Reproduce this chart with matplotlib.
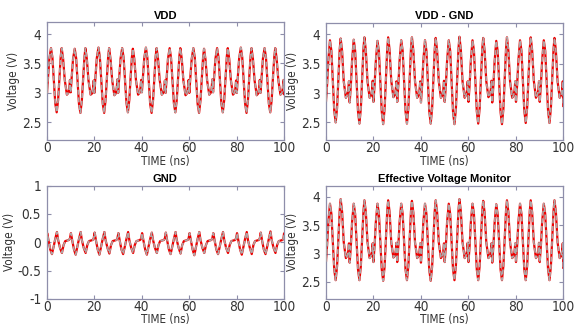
import matplotlib
matplotlib.use("Agg")
import matplotlib.pyplot as plt
from matplotlib import font_manager
from matplotlib.font_manager import FontProperties
from matplotlib.ticker import FuncFormatter

# ---------------- data ----------------
t_main = [0.0,
    0.1, 0.6, 1.1, 1.8, 2.4, 3.0, 3.6, 4.2, 4.8, 5.4, 5.9, 6.3, 6.9, 7.6, 8.5, 9.1, 9.5, 9.8,
    10.1, 10.6, 11.1, 11.8, 12.4, 13.0, 13.6, 14.2, 14.8, 15.4, 15.9, 16.3, 16.9, 17.6, 18.5, 19.1, 19.5, 19.8,
    20.1, 20.6, 21.1, 21.8, 22.4, 23.0, 23.6, 24.2, 24.8, 25.4, 25.9, 26.3, 26.9, 27.6, 28.5, 29.1, 29.5, 29.8,
    30.1, 30.6, 31.1, 31.8, 32.4, 33.0, 33.6, 34.2, 34.8, 35.4, 35.9, 36.3, 36.9, 37.6, 38.5, 39.1, 39.5, 39.8,
    40.1, 40.6, 41.1, 41.8, 42.4, 43.0, 43.6, 44.2, 44.8, 45.4, 45.9, 46.3, 46.9, 47.6, 48.5, 49.1, 49.5, 49.8,
    50.1, 50.6, 51.1, 51.8, 52.4, 53.0, 53.6, 54.2, 54.8, 55.4, 55.9, 56.3, 56.9, 57.6, 58.5, 59.1, 59.5, 59.8,
    60.1, 60.6, 61.1, 61.8, 62.4, 63.0, 63.6, 64.2, 64.8, 65.4, 65.9, 66.3, 66.9, 67.6, 68.5, 69.1, 69.5, 69.8,
    70.1, 70.6, 71.1, 71.8, 72.4, 73.0, 73.6, 74.2, 74.8, 75.4, 75.9, 76.3, 76.9, 77.6, 78.5, 79.1, 79.5, 79.8,
    80.1, 80.6, 81.1, 81.8, 82.4, 83.0, 83.6, 84.2, 84.8, 85.4, 85.9, 86.3, 86.9, 87.6, 88.5, 89.1, 89.5, 89.8,
    90.1, 90.6, 91.1, 91.8, 92.4, 93.0, 93.6, 94.2, 94.8, 95.4, 95.9, 96.3, 96.9, 97.6, 98.5, 99.1, 99.5, 99.8,
    100.0]

vdd = [3.20,
    3.00, 3.30, 3.58, 3.76, 3.60, 3.20, 2.82, 2.67, 2.88, 3.30, 3.62, 3.76, 3.58, 3.22, 2.97, 3.00, 3.08, 3.22,
    3.01, 3.31, 3.58, 3.75, 3.59, 3.19, 2.81, 2.66, 2.87, 3.29, 3.61, 3.76, 3.58, 3.21, 2.97, 2.99, 3.07, 3.21,
    3.00, 3.31, 3.59, 3.77, 3.60, 3.20, 2.82, 2.66, 2.88, 3.30, 3.62, 3.76, 3.57, 3.21, 2.96, 2.99, 3.08, 3.23,
    3.00, 3.30, 3.58, 3.76, 3.60, 3.21, 2.83, 2.67, 2.88, 3.30, 3.61, 3.75, 3.58, 3.22, 2.97, 3.00, 3.08, 3.22,
    3.01, 3.31, 3.59, 3.77, 3.60, 3.20, 2.81, 2.66, 2.87, 3.29, 3.62, 3.76, 3.58, 3.22, 2.97, 3.00, 3.07, 3.21,
    3.00, 3.30, 3.58, 3.76, 3.59, 3.20, 2.82, 2.67, 2.88, 3.30, 3.62, 3.76, 3.58, 3.21, 2.96, 2.99, 3.08, 3.22,
    3.00, 3.31, 3.58, 3.76, 3.60, 3.20, 2.81, 2.66, 2.87, 3.29, 3.61, 3.75, 3.57, 3.21, 2.97, 3.00, 3.08, 3.23,
    3.01, 3.30, 3.58, 3.76, 3.60, 3.21, 2.82, 2.67, 2.88, 3.30, 3.62, 3.76, 3.58, 3.22, 2.97, 3.00, 3.07, 3.21,
    3.00, 3.31, 3.59, 3.77, 3.60, 3.20, 2.82, 2.66, 2.87, 3.30, 3.62, 3.76, 3.58, 3.21, 2.96, 2.99, 3.08, 3.22,
    3.00, 3.30, 3.58, 3.76, 3.60, 3.20, 2.82, 2.67, 2.88, 3.30, 3.61, 3.76, 3.58, 3.22, 2.97, 3.00, 3.08, 3.22,
    2.98]

vdd_gnd = [3.20,
    2.85, 3.15, 3.55, 3.90, 3.72, 3.20, 2.70, 2.50, 2.75, 3.30, 3.75, 3.93, 3.72, 3.20, 2.92, 2.97, 3.05, 3.20,
    2.84, 3.14, 3.55, 3.91, 3.72, 3.20, 2.69, 2.48, 2.74, 3.30, 3.76, 3.95, 3.72, 3.20, 2.92, 2.96, 3.05, 3.21,
    2.85, 3.15, 3.54, 3.89, 3.71, 3.19, 2.68, 2.47, 2.73, 3.29, 3.75, 3.95, 3.73, 3.21, 2.93, 2.97, 3.06, 3.20,
    2.85, 3.15, 3.55, 3.90, 3.72, 3.20, 2.69, 2.48, 2.74, 3.30, 3.76, 3.95, 3.72, 3.20, 2.92, 2.97, 3.05, 3.20,
    2.84, 3.14, 3.55, 3.90, 3.72, 3.20, 2.69, 2.48, 2.74, 3.30, 3.75, 3.94, 3.72, 3.20, 2.92, 2.96, 3.05, 3.21,
    2.85, 3.15, 3.55, 3.90, 3.72, 3.20, 2.68, 2.47, 2.73, 3.30, 3.76, 3.96, 3.73, 3.20, 2.92, 2.97, 3.05, 3.20,
    2.85, 3.15, 3.55, 3.90, 3.72, 3.20, 2.69, 2.48, 2.74, 3.30, 3.75, 3.94, 3.72, 3.20, 2.93, 2.97, 3.06, 3.21,
    2.84, 3.14, 3.54, 3.89, 3.71, 3.19, 2.68, 2.47, 2.73, 3.29, 3.75, 3.95, 3.72, 3.20, 2.92, 2.96, 3.05, 3.20,
    2.85, 3.15, 3.55, 3.90, 3.72, 3.20, 2.70, 2.49, 2.75, 3.30, 3.76, 3.95, 3.73, 3.21, 2.92, 2.97, 3.05, 3.20,
    2.85, 3.15, 3.55, 3.90, 3.72, 3.20, 2.70, 2.49, 2.75, 3.30, 3.75, 3.94, 3.72, 3.20, 2.92, 2.97, 3.05, 3.20,
    2.78]

evm = [3.25,
    2.85, 3.15, 3.55, 3.88, 3.70, 3.20, 2.72, 2.53, 2.78, 3.30, 3.76, 3.96, 3.74, 3.20, 2.92, 2.96, 3.04, 3.18,
    2.84, 3.14, 3.55, 3.88, 3.70, 3.20, 2.72, 2.53, 2.78, 3.30, 3.75, 3.94, 3.73, 3.20, 2.92, 2.96, 3.04, 3.18,
    2.85, 3.15, 3.55, 3.88, 3.70, 3.20, 2.72, 2.52, 2.77, 3.30, 3.75, 3.94, 3.73, 3.20, 2.93, 2.96, 3.05, 3.19,
    2.85, 3.15, 3.55, 3.88, 3.70, 3.20, 2.72, 2.53, 2.78, 3.30, 3.75, 3.93, 3.72, 3.20, 2.92, 2.96, 3.04, 3.18,
    2.84, 3.14, 3.55, 3.88, 3.70, 3.20, 2.71, 2.52, 2.77, 3.30, 3.75, 3.94, 3.73, 3.20, 2.92, 2.96, 3.04, 3.18,
    2.85, 3.15, 3.55, 3.88, 3.70, 3.20, 2.72, 2.53, 2.78, 3.31, 3.77, 3.96, 3.74, 3.20, 2.92, 2.97, 3.05, 3.19,
    2.85, 3.15, 3.55, 3.88, 3.70, 3.20, 2.72, 2.53, 2.78, 3.30, 3.75, 3.93, 3.72, 3.20, 2.92, 2.96, 3.04, 3.18,
    2.84, 3.14, 3.54, 3.87, 3.69, 3.19, 2.72, 2.53, 2.78, 3.30, 3.75, 3.94, 3.73, 3.20, 2.92, 2.96, 3.04, 3.18,
    2.85, 3.15, 3.55, 3.88, 3.70, 3.20, 2.72, 2.53, 2.78, 3.30, 3.75, 3.94, 3.73, 3.20, 2.92, 2.96, 3.04, 3.19,
    2.85, 3.15, 3.55, 3.88, 3.70, 3.20, 2.72, 2.53, 2.78, 3.30, 3.75, 3.94, 3.73, 3.20, 2.92, 2.96, 3.04, 3.18,
    2.75]

t_gnd = [0.0,
    0.2, 0.8, 1.5, 2.2, 2.9, 3.6, 4.3, 4.8, 5.6, 6.4, 7.1, 7.8, 8.6, 9.4, 9.8,
    10.2, 10.8, 11.5, 12.2, 12.9, 13.6, 14.3, 14.8, 15.6, 16.4, 17.1, 17.8, 18.6, 19.4, 19.8,
    20.2, 20.8, 21.5, 22.2, 22.9, 23.6, 24.3, 24.8, 25.6, 26.4, 27.1, 27.8, 28.6, 29.4, 29.8,
    30.2, 30.8, 31.5, 32.2, 32.9, 33.6, 34.3, 34.8, 35.6, 36.4, 37.1, 37.8, 38.6, 39.4, 39.8,
    40.2, 40.8, 41.5, 42.2, 42.9, 43.6, 44.3, 44.8, 45.6, 46.4, 47.1, 47.8, 48.6, 49.4, 49.8,
    50.2, 50.8, 51.5, 52.2, 52.9, 53.6, 54.3, 54.8, 55.6, 56.4, 57.1, 57.8, 58.6, 59.4, 59.8,
    60.2, 60.8, 61.5, 62.2, 62.9, 63.6, 64.3, 64.8, 65.6, 66.4, 67.1, 67.8, 68.6, 69.4, 69.8,
    70.2, 70.8, 71.5, 72.2, 72.9, 73.6, 74.3, 74.8, 75.6, 76.4, 77.1, 77.8, 78.6, 79.4, 79.8,
    80.2, 80.8, 81.5, 82.2, 82.9, 83.6, 84.3, 84.8, 85.6, 86.4, 87.1, 87.8, 88.6, 89.4, 89.8,
    90.2, 90.8, 91.5, 92.2, 92.9, 93.6, 94.3, 94.8, 95.6, 96.4, 97.1, 97.8, 98.6, 99.4, 99.8,
    100.0]

gnd = [0.08,
    0.16, 0.02, -0.13, -0.21, -0.08, 0.06, 0.18, 0.04, -0.10, -0.19, -0.05, 0.02, 0.03, 0.04, 0.07,
    0.16, 0.02, -0.13, -0.22, -0.08, 0.06, 0.18, 0.04, -0.10, -0.19, -0.05, 0.02, 0.03, 0.04, 0.07,
    0.17, 0.02, -0.13, -0.22, -0.08, 0.06, 0.18, 0.04, -0.10, -0.20, -0.05, 0.02, 0.03, 0.04, 0.07,
    0.16, 0.02, -0.13, -0.21, -0.08, 0.06, 0.18, 0.04, -0.10, -0.19, -0.05, 0.02, 0.03, 0.04, 0.07,
    0.16, 0.02, -0.13, -0.22, -0.08, 0.06, 0.17, 0.04, -0.10, -0.19, -0.05, 0.02, 0.03, 0.04, 0.07,
    0.17, 0.02, -0.13, -0.21, -0.08, 0.06, 0.18, 0.04, -0.10, -0.20, -0.05, 0.02, 0.03, 0.04, 0.07,
    0.16, 0.02, -0.13, -0.23, -0.08, 0.06, 0.18, 0.04, -0.10, -0.19, -0.05, 0.02, 0.03, 0.04, 0.07,
    0.16, 0.02, -0.13, -0.21, -0.08, 0.06, 0.18, 0.04, -0.10, -0.19, -0.05, 0.02, 0.03, 0.04, 0.07,
    0.16, 0.02, -0.13, -0.22, -0.08, 0.06, 0.18, 0.04, -0.10, -0.21, -0.05, 0.02, 0.03, 0.04, 0.07,
    0.17, 0.02, -0.13, -0.21, -0.08, 0.06, 0.19, 0.04, -0.10, -0.19, -0.05, 0.02, 0.03, 0.04, 0.08,
    0.15]

titles = ["VDD", "VDD - GND", "GND", "Effective Voltage Monitor"]
xticks = [0, 20, 40, 60, 80, 100]
yticks_v = [2.5, 3, 3.5, 4]
yticks_g = [-1, -0.5, 0, 0.5, 1]
xlabel = "TIME (ns)"
ylabel = "Voltage (V)"

# ---------------- fonts ----------------
narrow_path = None
narrow_kind = None
for f in font_manager.fontManager.ttflist:
    fn = f.fname.lower()
    if f.style != "normal" or f.weight not in (400, "normal", "regular"):
        continue
    if "liberationsansnarrow-regular" in fn.replace(" ", ""):
        narrow_path, narrow_kind = f.fname, "lib"
        break
if narrow_path is None:
    for f in font_manager.fontManager.ttflist:
        fn = f.fname.lower()
        if fn.endswith("dejavusanscondensed.ttf"):
            narrow_path, narrow_kind = f.fname, "dv"
            break

if narrow_kind == "lib":
    def tfp(size):
        return FontProperties(fname=narrow_path, size=size * 1.2)
elif narrow_kind == "dv":
    def tfp(size):
        return FontProperties(fname=narrow_path, size=size * 0.98)
else:
    def tfp(size):
        return FontProperties(family="Liberation Sans", size=size * 0.95)

TICK_SIZE = 10.0
LABEL_SIZE = 8.5

spine_col = "#8e8eaa"
text_col = "#333333"

fig = plt.figure(figsize=(5.74, 3.27), dpi=100)
fig.patch.set_facecolor("white")

positions = [
    [0.0814, 0.5719, 0.4134, 0.3600],
    [0.5674, 0.5719, 0.4139, 0.3587],
    [0.0814, 0.0860, 0.4134, 0.3465],
    [0.5674, 0.0860, 0.4139, 0.3465],
]
series = [(t_main, vdd), (t_main, vdd_gnd), (t_gnd, gnd), (t_main, evm)]
ylims = [(2.2, 4.2), (2.2, 4.2), (-1, 1), (2.2, 4.2)]
yticks_list = [yticks_v, yticks_v, yticks_g, yticks_v]

for pos, (tx, vy), title, yl, ytk in zip(positions, series, titles, ylims, yticks_list):
    ax = fig.add_axes(pos)
    ax.plot(tx, vy, color="#ee0000", lw=1.6, solid_joinstyle="round", zorder=2)
    ax.plot(tx, vy, color="#b0a4a4", lw=1.2, dashes=(3.0, 1.6), zorder=3)
    ax.set_xlim(0, 100)
    ax.set_ylim(*yl)
    ax.set_xticks(xticks)
    ax.set_yticks(ytk)
    ax.yaxis.set_major_formatter(FuncFormatter(lambda v, p: f"{v:g}"))
    for s in ax.spines.values():
        s.set_color(spine_col)
        s.set_linewidth(0.9)
    ax.tick_params(axis="both", which="both", direction="in", length=3,
                   color=spine_col, width=0.8, top=True, right=True,
                   labelcolor=text_col)
    ax.tick_params(axis="x", pad=1.0)
    ax.tick_params(axis="y", pad=4)
    for lab in ax.get_xticklabels() + ax.get_yticklabels():
        lab.set_fontproperties(tfp(TICK_SIZE))
    ax.set_xlabel(xlabel, fontproperties=tfp(LABEL_SIZE), color=text_col, labelpad=-0.6)
    ax.set_ylabel(ylabel, fontproperties=tfp(LABEL_SIZE), color=text_col, labelpad=1)
    ax.set_title(title, fontsize=8, fontweight="bold", family="Liberation Sans", pad=2.5)

fig.savefig("out.png", dpi=100)
